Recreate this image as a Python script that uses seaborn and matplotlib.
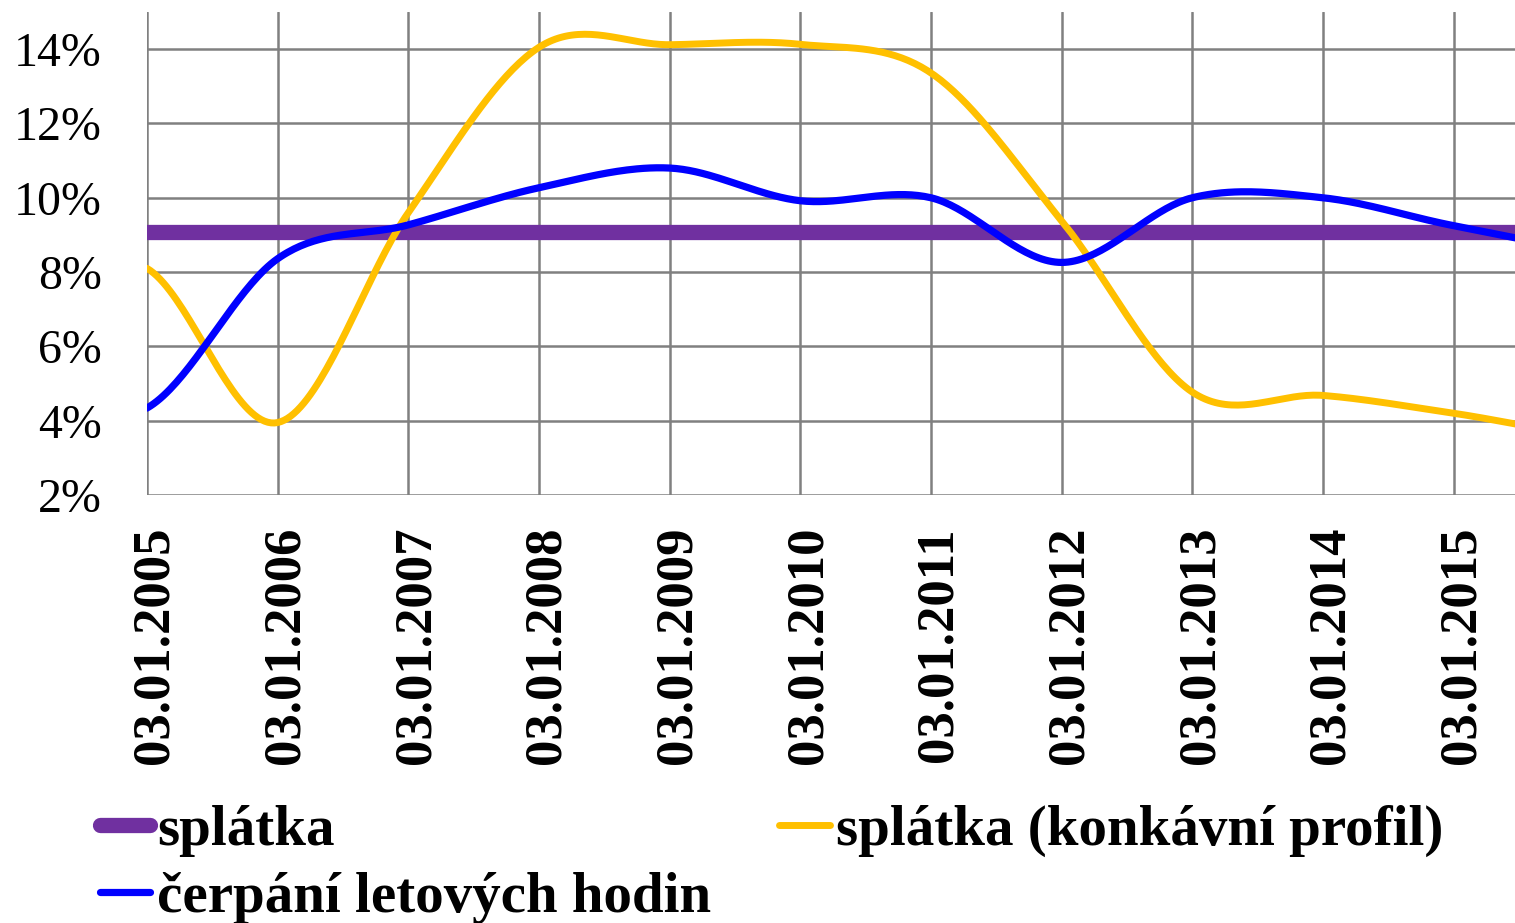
import numpy as np
import pandas as pd
import matplotlib
matplotlib.use('Agg')
import matplotlib.pyplot as plt
import matplotlib.transforms as mtransforms
import seaborn as sns

sns.set_style("white")
plt.rcParams['font.family'] = ['Liberation Serif', 'DejaVu Serif']
plt.rcParams['text.color'] = 'black'
plt.rcParams['xtick.labelcolor'] = 'black'
plt.rcParams['ytick.labelcolor'] = 'black'

# data (v %)
dates = ["03.01.2005", "03.01.2006", "03.01.2007", "03.01.2008", "03.01.2009",
         "03.01.2010", "03.01.2011", "03.01.2012", "03.01.2013", "03.01.2014",
         "03.01.2015", "03.01.2016"]
splatka = [9.09] * 12
splatka_konkavni = [8.1, 3.95, 9.6, 14.05, 14.12, 14.13, 13.36, 9.38, 4.77, 4.68, 4.2, 3.65]
cerpani = [4.34, 8.36, 9.27, 10.27, 10.8, 9.92, 10.0, 8.26, 10.0, 10.0, 9.25, 8.65]

yticks = [2, 4, 6, 8, 10, 12, 14]

PURPLE = "#7030A0"
YELLOW = "#FFC000"
BLUE = "#0000FF"
GRID = "#808080"


def smooth(values, steps=40):
    """vyhlazená čára jako v Excelu (Catmull-Rom), jen pro vykreslení"""
    p = np.asarray(values, dtype=float)
    n = len(p)
    xs, ys = [], []
    for i in range(n - 1):
        p0 = p[i - 1] if i > 0 else p[i]
        p3 = p[i + 2] if i + 2 < n else p[i + 1]
        m0 = (p[i + 1] - p0) / 2
        m1 = (p3 - p[i]) / 2
        t = np.linspace(0, 1, steps, endpoint=False)
        h00 = 2 * t**3 - 3 * t**2 + 1
        h10 = t**3 - 2 * t**2 + t
        h01 = -2 * t**3 + 3 * t**2
        h11 = t**3 - t**2
        xs.append(i + t)
        ys.append(h00 * p[i] + h10 * m0 + h01 * p[i + 1] + h11 * m1)
    xs.append([n - 1])
    ys.append([p[-1]])
    return np.concatenate(xs), np.concatenate(ys)


fig = plt.figure(figsize=(15.15, 9.23), dpi=100)
ax = fig.add_axes([147 / 1515, 1 - 495 / 923, 1 - 147 / 1515, (495 - 12) / 923])

series = [
    ("splátka", splatka, PURPLE, 11),
    ("splátka (konkávní profil)", splatka_konkavni, YELLOW, 5),
    ("čerpání letových hodin", cerpani, BLUE, 5.2),
]
handles = {}
for name, vals, color, lw in series:
    sx, sy = smooth(vals)
    df = pd.DataFrame({"x": sx, "y": sy})
    sns.lineplot(data=df, x="x", y="y", ax=ax, color=color, linewidth=lw,
                 sort=False, estimator=None, solid_capstyle='round', zorder=3)
    handles[name] = ax.lines[-1]

ax.set_xticks(range(len(dates)))
ax.set_xticklabels(dates, rotation=90, fontsize=38, fontweight='bold', va='top')
ax.set_yticks(yticks)
ax.set_yticklabels([f"{v}%" for v in yticks], fontsize=34.5)
ax.set_xlim(0, 10.47)
ax.set_ylim(2, 15)
ax.set_xlabel("")
ax.set_ylabel("")

ax.grid(True, color=GRID, linewidth=1.8)
ax.set_axisbelow(True)
for s in ax.spines.values():
    s.set_visible(False)
ax.tick_params(axis='x', length=11, width=1.8, color=GRID, pad=12, direction='out')
ax.tick_params(axis='y', length=12.5, width=1.8, color=GRID, pad=20, direction='out')

offset = mtransforms.ScaledTranslation(0.08, 0, fig.dpi_scale_trans)
for lab in ax.get_xticklabels():
    lab.set_transform(lab.get_transform() + offset)

order = ["splátka", "čerpání letových hodin", "splátka (konkávní profil)"]
leg = fig.legend([handles[k] for k in order], order, ncol=2,
                 loc='upper left', bbox_to_anchor=(0.066, 0.128),
                 frameon=False, prop={'size': 41, 'weight': 'bold'},
                 handlelength=0.88, handletextpad=0.12, columnspacing=1.2,
                 labelspacing=0.27, borderpad=0, borderaxespad=0)

fig.savefig("out.png", dpi=100)
